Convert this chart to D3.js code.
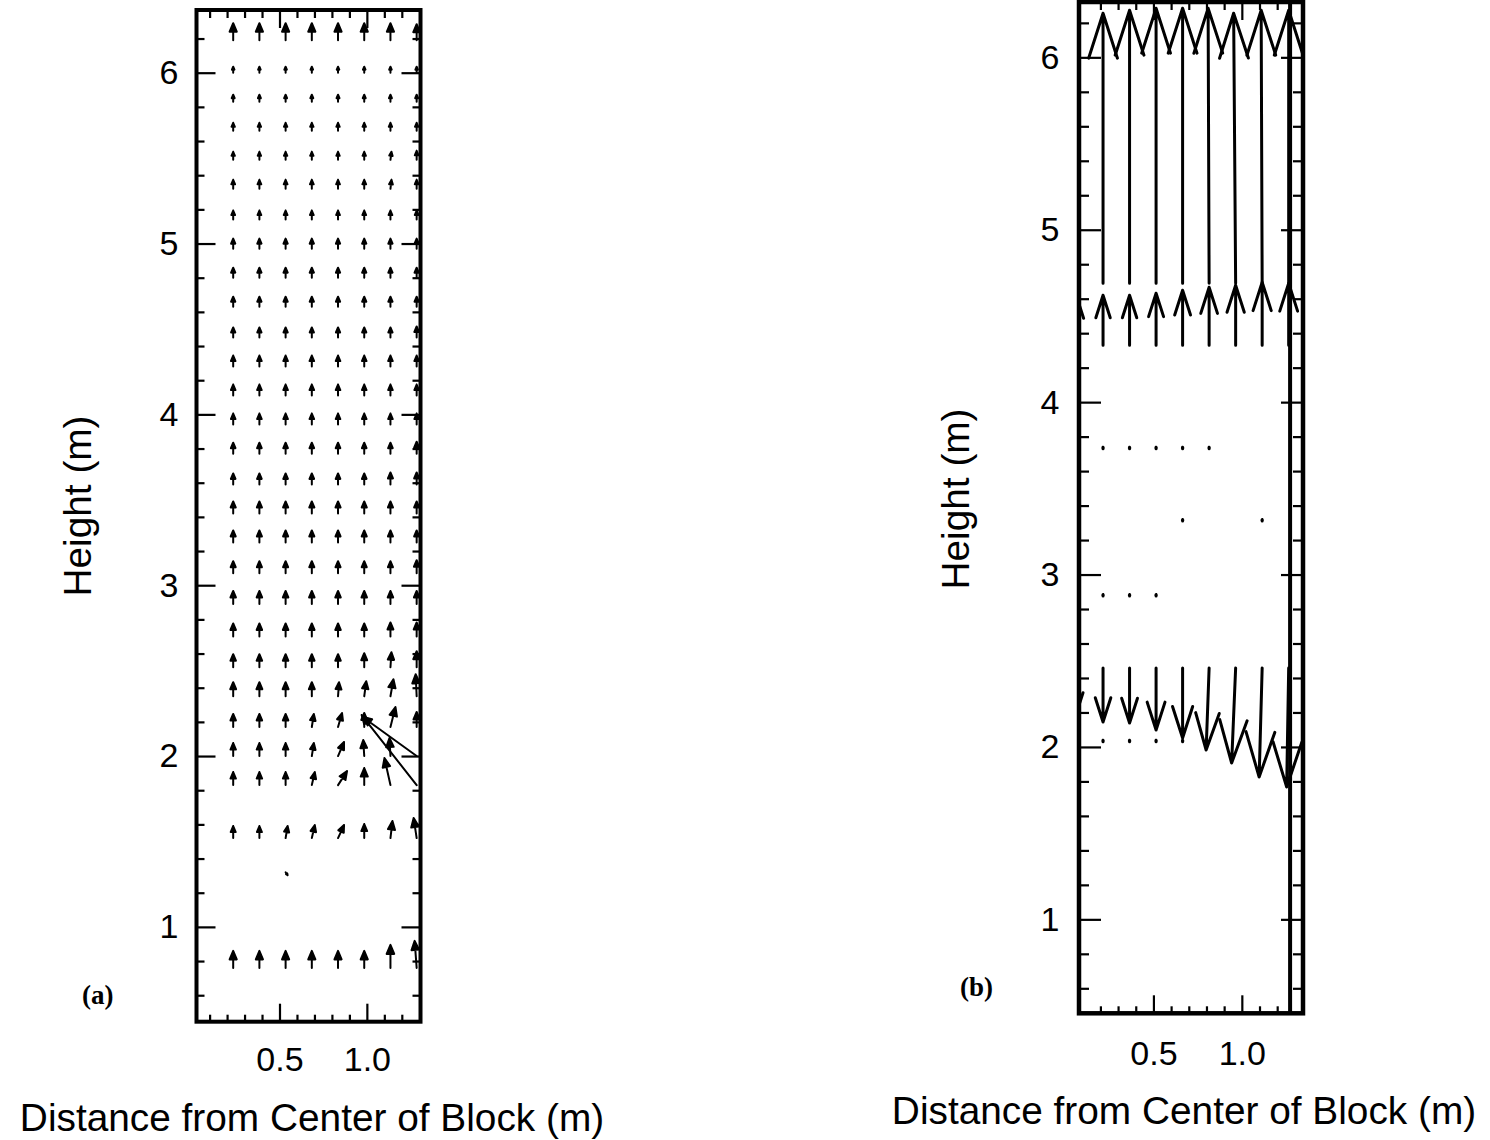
<!DOCTYPE html>
<html>
<head>
<meta charset="utf-8">
<script src="https://cdn.jsdelivr.net/npm/d3@7"></script>
<style>
  body { margin: 0; background: #fff; }
</style>
</head>
<body>
<div id="chart"></div>
<script>
// ---- panel (a): velocity vectors, tail positions (m) and components (cm/s)
var colsA = [0.235, 0.385, 0.535, 0.685, 0.835, 0.985, 1.135, 1.285]
var rowsA = [6.19, 6.00, 5.83, 5.66, 5.49, 5.32, 5.14, 4.97, 4.80, 4.63, 4.45, 4.28, 4.11, 3.94,
             3.77, 3.59, 3.42, 3.25, 3.07, 2.89, 2.70, 2.52, 2.35, 2.17, 2.00, 1.83, 1.52, 1.32, 0.76]
var vA = [
  [17, 17, 17, 17, 17, 17, 17, 16],
  [6, 6, 6, 6, 6, 6, 6, 6],
  [7, 7, 7, 7, 7, 7, 7, 7],
  [8, 8, 8, 8, 8, 8, 8, 8],
  [8, 8, 8, 8, 8, 8, 8, 9],
  [9, 9, 9, 9, 9, 9, 9, 9],
  [9, 9, 9, 9, 9, 9, 9, 9],
  [10, 10, 10, 10, 10, 10, 10, 10],
  [10, 10, 10, 10, 10, 10, 10, 10],
  [10, 10, 10, 10, 10, 10, 10, 10],
  [10, 10, 10, 10, 10, 10, 10, 11],
  [11, 11, 11, 11, 11, 11, 11, 11],
  [11, 11, 11, 11, 11, 11, 11, 11],
  [11, 11, 11, 11, 11, 11, 11, 11],
  [11, 11, 11, 11, 11, 11, 11, 12],
  [11, 11, 11, 11, 11, 11, 12, 12],
  [12, 12, 12, 12, 12, 12, 12, 12],
  [12, 12, 12, 12, 12, 12, 12, 12],
  [12, 12, 12, 12, 12, 12, 12, 13],
  [13, 13, 13, 13, 13, 13, 13, 13],
  [13, 13, 13, 13, 13, 13, 14, 14],
  [13, 13, 13, 13, 13, 14, 15, 16],
  [14, 14, 14, 14, 14, 15, 17, 22],
  [13, 13, 13, 13, 14, 14, 20, 15],
  [13, 13, 13, 13, 14, 16, 18, 39],
  [13, 13, 13, 13, 14, 17, 27, 70],
  [12, 12, 12, 13, 13, 14, 17, 20],
  [0, 0, -3, 0, 0, 0, 0, 0],
  [17, 17, 17, 17, 17, 17, 23, 27]
]
var uA = [
  [0, 0, 0, 0, 0, 0, 0, 0], [0, 0, 0, 0, 0, 0, 0, 0], [0, 0, 0, 0, 0, 0, 0, 0],
  [0, 0, 0, 0, 0, 0, 0, 0], [0, 0, 0, 0, 0, 0, 1, 0], [0, 0, 0, 0, 0, 0, 1, 0],
  [0, 0, 0, 0, 0, 0, 0, 0], [0, 0, 0, 0, 0, 0, 0, 0], [0, 0, 0, 0, 0, 0, 0, 0],
  [0, 0, 0, 0, 0, 0, 0, 0], [0, 0, 0, 0, 0, 0, 0, 0], [0, 0, 0, 0, 0, 0, 0, 0],
  [0, 0, 0, 0, 0, 0, 0, 0], [0, 0, 0, 0, 0, 0, 0, 0], [0, 0, 0, 0, 0, 0, 0, 0],
  [0, 0, 0, 0, 0, 0, 0, 0], [0, 0, 0, 0, 0, 0, 0, 0], [0, 0, 0, 0, 0, 0, 0, 0],
  [0, 0, 0, 0, 0, 0, 0, 0], [0, 0, 0, 0, 0, 0, 0, 0], [0, 0, 0, 0, 0, 0, 0, 0],
  [0, 0, 0, 0, 0, 0, 1, 0],
  [0, 0, 0, 0, 1, 2, 3, -1],
  [0, 0, 0, 2, 4, 0, 5, 0],
  [0, 0, 0, 2, 6, -1, -1, -54],
  [0, 0, 0, 3, 9, 0, -6, -55],
  [0, 0, 2, 3, 6, 0, 2, -3],
  [0, 0, 2, 0, 0, 0, 0, 0],
  [0, 0, 0, 0, 0, 0, 0, -2]
]

// ---- panel (b)
var colsB = [0.065, 0.215, 0.365, 0.515, 0.665, 0.815, 0.965, 1.115, 1.265]
var rowsB = [4.69, 4.33, 3.73, 3.31, 2.875, 2.458, 2.03]
var vB = [
  [0, 270, 273, 275, 275, 275, 270, 273, 273],
  [49, 50, 50, 52, 55, 58, 60, 63, 62],
  [0, 1.5, 1.5, 1.5, 1.5, 1.5, 0, 0, 0],
  [0, 0, 0, 0, 1.5, 0, 0, 1.5, 0],
  [0, 1.5, 1.5, 1.5, 0, 0, 0, 0, 0],
  [-45, -54, -55, -62, -70, -82, -95, -109, -119],
  [0, 1.5, 1.5, 1.5, 1.5, 0, 0, 0, 0]
]
var uB = [
  [0, 0, 0, 0, 0, -1, -2, -1, 0],
  [0, 0, 0, 0, 0, 0, 0, 0, 0],
  [0, 0, 0, 0, 0, 0, 0, 0, 0],
  [0, 0, 0, 0, 0, 0, 0, 0, 0],
  [0, 0, 0, 0, 0, 0, 0, 0, 0],
  [0, 0, 0, 0, 0, -3, -4, -3, -2],
  [0, 0, 0, 0, 0, 0, 0, 0, 0]
]
var blockEdgeB = 1.273

// axis ticks
var yMajor = [1, 2, 3, 4, 5, 6]
var xMajor = [0.5, 1.0]
var yMinor = d3.range(0.6, 6.3, 0.2).filter(function(d){ return Math.abs(d - Math.round(d)) > 0.05 })
var xMinorA = [0.1, 0.2, 0.3, 0.4, 0.6, 0.7, 0.8, 0.9, 1.1, 1.2]
var xMinorB = [0.2, 0.3, 0.4, 0.6, 0.7, 0.8, 0.9, 1.1, 1.2]

var svg = d3.select('#chart').append('svg')
    .attr('width', 1490).attr('height', 1140)
    .style('background', '#fff')

function drawPanel(p){
  var g = svg.append('g')
  var x = d3.scaleLinear().domain(p.xDomain).range([p.left, p.right])
  var y = d3.scaleLinear().domain(p.yDomain).range([p.bottom, p.top])

  svg.append('clipPath').attr('id', 'clip-' + p.id)
    .append('rect')
      .attr('x', p.left).attr('y', p.top)
      .attr('width', p.right - p.left).attr('height', p.bottom - p.top)

  var vecs = []
  p.rows.forEach(function(r, i){
    p.cols.forEach(function(c, j){
      if (p.u[i][j] != 0 || p.v[i][j] != 0)
        vecs.push({x: c, y: r, u: p.u[i][j], v: p.v[i][j]})
    })
  })

  // arrow path: shaft + head (closed for filled heads, open V otherwise)
  function arrowPath(d){
    var x0 = x(d.x), y0 = y(d.y)
    var dx = d.u * p.scale, dy = -d.v * p.scale
    var len = Math.sqrt(dx*dx + dy*dy)
    var x1 = x0 + dx, y1 = y0 + dy
    var ux = dx / len, uy = dy / len
    var h = Math.min(len * p.headFrac, p.headMax)
    var w = h * p.headWidth
    var bx = x1 - ux*h, by = y1 - uy*h
    var lx = bx - uy*w, ly = by + ux*w
    var rx = bx + uy*w, ry = by - ux*w
    if (p.filled)
      return 'M' + x0 + ',' + y0 + 'L' + x1 + ',' + y1 +
             'M' + x1 + ',' + y1 + 'L' + lx + ',' + ly + 'L' + rx + ',' + ry + 'Z'
    return 'M' + x0 + ',' + y0 + 'L' + x1 + ',' + y1 +
           'M' + lx + ',' + ly + 'L' + x1 + ',' + y1 + 'L' + rx + ',' + ry
  }

  g.append('g').attr('clip-path', 'url(#clip-' + p.id + ')')
    .selectAll('path')
    .data(vecs)
    .enter()
    .append('path')
      .attr('d', arrowPath)
      .attr('fill', p.filled ? '#000' : 'none')
      .attr('stroke', '#000')
      .attr('stroke-width', p.arrowWidth)
      .attr('stroke-linecap', 'round')
      .attr('stroke-linejoin', 'round')

  if (p.edge != null){
    g.append('line')
      .attr('x1', x(p.edge)).attr('x2', x(p.edge))
      .attr('y1', p.top).attr('y2', p.bottom)
      .attr('stroke', '#000').attr('stroke-width', 4)
  }

  function addAxis(axis, tr){
    var a = g.append('g').attr('transform', tr).call(axis)
    a.select('.domain').remove()
    a.selectAll('line').attr('stroke-width', 2.2)
    a.attr('font-family', '"Liberation Sans", Arial, sans-serif').attr('font-size', 34)
    return a
  }
  var noLabel = function(){ return '' }
  // left
  addAxis(d3.axisLeft(y).tickValues(yMinor).tickSize(-p.yMinorLen).tickFormat(noLabel), 'translate(' + p.left + ',0)')
  addAxis(d3.axisLeft(y).tickValues(yMajor).tickSize(-p.yMajorLen).tickPadding(p.yPad).tickFormat(d3.format('d')), 'translate(' + p.left + ',0)')
  // right
  addAxis(d3.axisRight(y).tickValues(yMinor).tickSize(-p.yMinorLen).tickFormat(noLabel), 'translate(' + p.right + ',0)')
  addAxis(d3.axisRight(y).tickValues(yMajor).tickSize(-p.yMajorLen).tickFormat(noLabel), 'translate(' + p.right + ',0)')
  // bottom
  addAxis(d3.axisBottom(x).tickValues(p.xMinor).tickSize(-7).tickFormat(noLabel), 'translate(0,' + p.bottom + ')')
  addAxis(d3.axisBottom(x).tickValues(xMajor).tickSize(-18).tickPadding(p.xPad).tickFormat(d3.format('.1f')), 'translate(0,' + p.bottom + ')')
  // top
  addAxis(d3.axisTop(x).tickValues(p.xMinor).tickSize(-8).tickFormat(noLabel), 'translate(0,' + p.top + ')')
  addAxis(d3.axisTop(x).tickValues(xMajor).tickSize(-18).tickFormat(noLabel), 'translate(0,' + p.top + ')')

  g.append('rect')
    .attr('x', p.left).attr('y', p.top)
    .attr('width', p.right - p.left).attr('height', p.bottom - p.top)
    .attr('fill', 'none').attr('stroke', '#000').attr('stroke-width', p.frameWidth)

  g.append('text')
    .attr('x', p.xTitle[0]).attr('y', p.xTitle[1])
    .attr('text-anchor', 'middle')
    .attr('font-family', '"Liberation Sans", Arial, sans-serif')
    .attr('font-size', 38.8)
    .text('Distance from Center of Block (m)')

  g.append('text')
    .attr('transform', 'translate(' + p.yTitle[0] + ',' + p.yTitle[1] + ') rotate(-90)')
    .attr('text-anchor', 'middle')
    .attr('font-family', '"Liberation Sans", Arial, sans-serif')
    .attr('font-size', 38.8)
    .text('Height (m)')

  g.append('text')
    .attr('x', p.tag[0]).attr('y', p.tag[1])
    .attr('font-family', '"Liberation Serif", "Times New Roman", serif')
    .attr('font-weight', 'bold')
    .attr('font-size', 27)
    .text(p.label)
}

drawPanel({
  id: 'a', label: '(a)',
  cols: colsA, rows: rowsA, u: uA, v: vA,
  xDomain: [0.025, 1.307], yDomain: [0.445, 6.367],
  left: 196.5, right: 420.5, top: 10, bottom: 1021.7,
  scale: 1, filled: true, headFrac: 0.5, headMax: 9, headWidth: 0.42, arrowWidth: 2,
  xMinor: xMinorA, yMinorLen: 8, yMajorLen: 19, yPad: 18, xPad: 25, frameWidth: 4,
  edge: null,
  xTitle: [312, 1131], yTitle: [91, 506], tag: [82, 1004]
})

drawPanel({
  id: 'b', label: '(b)',
  cols: colsB, rows: rowsB, u: uB, v: vB,
  xDomain: [0.079, 1.346], yDomain: [0.455, 6.321],
  left: 1079, right: 1303, top: 2, bottom: 1013.3,
  scale: 1, filled: false, headFrac: 0.45, headMax: 45, headWidth: 0.32, arrowWidth: 3,
  xMinor: xMinorB, yMinorLen: 10, yMajorLen: 22, yPad: 19.5, xPad: 28, frameWidth: 4.5,
  edge: blockEdgeB,
  xTitle: [1184, 1124], yTitle: [969, 499], tag: [960, 996]
})
</script>
</body>
</html>
